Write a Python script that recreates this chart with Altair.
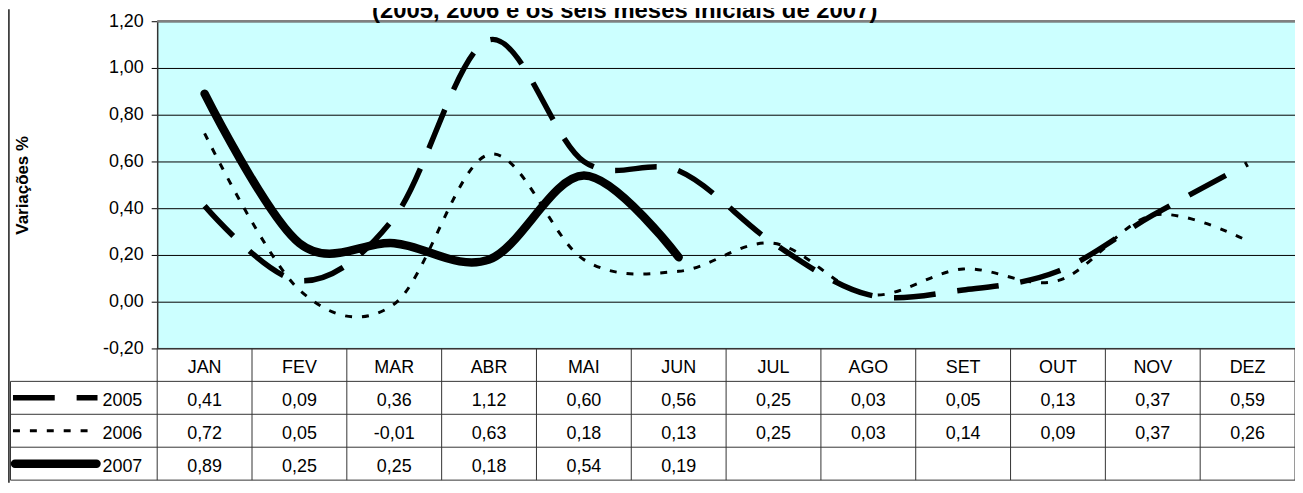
import altair as alt
import pandas as pd

# ---------------- data ----------------
months = ["JAN", "FEV", "MAR", "ABR", "MAI", "JUN", "JUL", "AGO", "SET", "OUT", "NOV", "DEZ"]
years = ["2005", "2006", "2007"]
v2005 = [0.41, 0.09, 0.36, 1.12, 0.60, 0.56, 0.25, 0.03, 0.05, 0.13, 0.37, 0.59]
v2006 = [0.72, 0.05, -0.01, 0.63, 0.18, 0.13, 0.25, 0.03, 0.14, 0.09, 0.37, 0.26]
v2007 = [0.89, 0.25, 0.25, 0.18, 0.54, 0.19]
y_ticks = [-0.2, 0.0, 0.2, 0.4, 0.6, 0.8, 1.0, 1.2]
title_text = "(2005, 2006 e os seis meses iniciais de 2007)"
y_title = "Variações %"

# ---------------- layout / style ----------------
W, H = 1144, 329          # plot area
ROW_H = 33.1              # data-table row height
PAD_L, PAD_T = 150, 12
SVG_H = 476
U = W / 12                # px per month column
FONT = "Liberation Sans"
FS = 18
GRID = "#000000"
CELL = "#333333"


def ux(img_px):
    """image x pixel -> month units of the x scale"""
    return (img_px - (PAD_L + 8)) / U


LEG_LEFT = ux(10.5)

series = {"2005": v2005, "2006": v2006, "2007": v2007}
recs = []
for r, yr in enumerate(years):
    for i, v in enumerate(series[yr]):
        recs.append({"year": yr, "xc": i + 0.5, "value": v, "row": r + 1.5,
                     "label": f"{v:.2f}".replace(".", ",")})
df = pd.DataFrame(recs)

xs = alt.Scale(domain=[0, 12], range=[0, W], nice=False, zero=False)
ys = alt.Scale(domain=[-0.2, 1.2], range=[H, 0], nice=False, zero=False)
rs = alt.Scale(domain=[0, 4], range=[H, H + 4 * ROW_H], nice=False, zero=False)

yaxis = alt.Axis(
    values=y_ticks,
    labelExpr="replace(replace(format(datum.value, '.2f'), '.', ','), '\u2212', '-')",
    grid=True, gridColor=GRID, gridWidth=1, gridOpacity=1,
    domainColor="#333333", domainWidth=1.5,
    tickColor="black", tickSize=6, tickWidth=1,
    labelFont=FONT, labelFontSize=FS, labelColor="black", labelPadding=8,
    title=y_title, titleFont=FONT, titleFontSize=17, titleFontWeight="bold",
    titleColor="black", titleX=-135, titleY=H / 2, titleAngle=270,
    titleAlign="center", titleBaseline="middle",
)

X = alt.X("xc:Q", scale=xs, axis=None)
Y = alt.Y("value:Q", scale=ys, axis=yaxis)

styles = {
    "2005": dict(strokeWidth=5.5, strokeDash=[42, 22], strokeCap="butt"),
    "2006": dict(strokeWidth=3, strokeDash=[7, 10], strokeCap="butt"),
    "2007": dict(strokeWidth=8.5, strokeCap="round"),
}

line_layers = []
for yr in years:
    line_layers.append(
        alt.Chart(df)
        .transform_filter(f"datum.year == '{yr}'")
        .mark_line(interpolate="cardinal", color="black", **styles[yr])
        .encode(x=X, y=Y)
    )

top_border = (
    alt.Chart(pd.DataFrame({"value": [y_ticks[-1]]}))
    .mark_rule(color="#808080", strokeWidth=2.5)
    .encode(y=Y, x=alt.value(0), x2=alt.value(W))
)

plot = alt.layer(*line_layers, top_border)

# ---------------- data table ----------------
RY = lambda f: alt.Y(f, scale=rs, axis=None)
RX = lambda f: alt.X(f, scale=xs, axis=None)

vl_df = pd.DataFrame({"c": list(range(13)), "y0": 0, "y1": 4})
vlines = alt.Chart(vl_df).mark_rule(color=CELL, strokeWidth=1).encode(
    x=RX("c:Q"), y=RY("y0:Q"), y2="y1:Q")

hl_df = pd.DataFrame({"r": [0, 1, 2, 3, 4],
                      "x0": [0, LEG_LEFT, LEG_LEFT, LEG_LEFT, LEG_LEFT],
                      "x1": [12] * 5})
hlines = alt.Chart(hl_df).mark_rule(color=CELL, strokeWidth=1).encode(
    x=RX("x0:Q"), x2="x1:Q", y=RY("r:Q"))

lb_df = pd.DataFrame({"c": [LEG_LEFT], "y0": [1], "y1": [4]})
legborder = alt.Chart(lb_df).mark_rule(color=CELL, strokeWidth=1).encode(
    x=RX("c:Q"), y=RY("y0:Q"), y2="y1:Q")

hdr_df = pd.DataFrame({"m": months, "xc": [i + 0.5 for i in range(12)], "row": 0.5})
header = alt.Chart(hdr_df).mark_text(font=FONT, fontSize=FS, color="black",
                                     baseline="middle", dy=3).encode(
    x=RX("xc:Q"), y=RY("row:Q"), text="m:N")

vals = alt.Chart(df).mark_text(font=FONT, fontSize=FS, color="black",
                               baseline="middle", dy=3).encode(
    x=RX("xc:Q"), y=RY("row:Q"), text="label:N")

ll_df = pd.DataFrame({"year": years, "xc": [ux(103)] * 3,
                      "row": [r + 1.5 for r in range(3)]})
leglabels = alt.Chart(ll_df).mark_text(font=FONT, fontSize=FS, color="black",
                                       baseline="middle", align="left", dy=3).encode(
    x=RX("xc:Q"), y=RY("row:Q"), text="year:N")

sample_x = {"2005": (ux(13), ux(98)), "2006": (ux(13), ux(89)), "2007": (ux(15), ux(97))}
samples = []
for r, yr in enumerate(years):
    sdf = pd.DataFrame({"xc": list(sample_x[yr]), "row": [r + 1.5] * 2})
    samples.append(
        alt.Chart(sdf).mark_line(color="black", **styles[yr]).encode(
            x=RX("xc:Q"), y=RY("row:Q"))
    )

table = alt.layer(vlines, hlines, legborder, header, vals, leglabels, *samples)

# ---------------- decorations ----------------
title = alt.Chart(pd.DataFrame({"t": [title_text]})).mark_text(
    font=FONT, fontSize=24, fontWeight="bold", color="black",
    align="center", baseline="alphabetic").encode(
    x=alt.value(470), y=alt.value(-3.5), text="t:N")

outer = alt.Chart(pd.DataFrame({"a": [0]})).mark_rule(
    color="#404040", strokeWidth=2).encode(
    x=alt.value(-149.2), y=alt.value(-PAD_T), y2=alt.value(SVG_H - PAD_T))

chart = (
    alt.layer(plot, table, title, outer)
    .resolve_scale(y="independent")
    .properties(
        width=W, height=H,
        autosize=alt.AutoSizeParams(type="none"),
        padding={"left": PAD_L, "top": PAD_T, "right": 0, "bottom": SVG_H - PAD_T - H},
        background="white",
    )
    .configure_view(fill="#CCFFFF", stroke="transparent")
)

chart.save("out.html", embed_options={"renderer": "svg", "actions": False})
